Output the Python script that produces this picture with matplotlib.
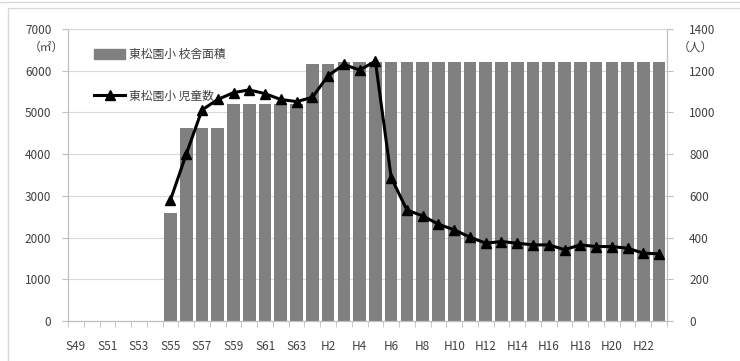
import numpy as np
import matplotlib.pyplot as plt
from matplotlib.lines import Line2D

plt.rcParams['font.family'] = ['Noto Sans CJK JP', 'DejaVu Sans']

# 年度 (S49〜S63, H1〜H23)
years = ['S%d' % y for y in range(49, 64)] + ['H%d' % y for y in range(1, 24)]
tick_years = years[::2]

# 校舎面積 (㎡)
area = [0, 0, 0, 0, 0, 0,
        2600, 4620, 4620, 4620,
        5200, 5200, 5200, 5200, 5200,
        6150, 6150, 6200, 6200, 6200,
        6200, 6200, 6200, 6200, 6200, 6200, 6200, 6200, 6200,
        6200, 6200, 6200, 6200, 6200, 6200, 6200, 6200, 6200]

# 児童数 (人)
pupils = [np.nan] * 6 + [
    580, 800, 1012, 1062, 1095, 1108, 1090, 1062, 1052,
    1072, 1176, 1230, 1203, 1246,
    688, 532, 504, 464, 437, 402, 373, 381, 373, 365, 365,
    342, 365, 357, 357, 349, 325, 322]

label_area = '東松園小 校舎面積'
label_pupils = '東松園小 児童数'

fig = plt.figure(figsize=(7.4, 3.61), dpi=100)
ax = fig.add_axes([68 / 740, 1 - 321 / 361, 599 / 740, 292 / 361])
ax2 = ax.twinx()

x = np.arange(len(years))
ax.bar(x, area, width=0.8, color='#808080', zorder=2)
ax2.plot(x, pupils, color='black', linewidth=2.2, marker='^',
         markersize=7, zorder=3)

ax.set_xlim(-0.5, len(years) - 0.5)
ax.set_ylim(0, 7000)
ax2.set_ylim(0, 1400)
ax.set_yticks(range(0, 7001, 1000))
ax2.set_yticks(range(0, 1401, 200))
ax.yaxis.grid(True, color='#d9d9d9', linewidth=0.8, zorder=0)
ax.set_axisbelow(True)

# ticks at category boundaries, labels every other year
ax.set_xticks(x[::2])
ax.set_xticklabels(tick_years)
ax.set_xticks(np.arange(len(years) + 1) - 0.5, minor=True)
ax.tick_params(axis='x', which='major', length=0, pad=14, labelsize=8.5,
               colors='#404040')
ax.tick_params(axis='x', which='minor', length=4, color='#bfbfbf')
ax.tick_params(axis='y', length=4, color='#bfbfbf', labelsize=8.5,
               labelcolor='#404040', pad=8)
ax2.tick_params(axis='y', length=4, color='#bfbfbf', labelsize=8.5,
                labelcolor='#404040', pad=12)

for a in (ax, ax2):
    for s in a.spines.values():
        s.set_color('#bfbfbf')
        s.set_linewidth(0.8)
    a.spines['top'].set_color('#d9d9d9')

# units under the top tick labels
fig.text(46 / 740, 1 - 47 / 361, '（㎡）', fontsize=8.5, color='#404040',
         ha='center', va='center')
fig.text(695 / 740, 1 - 47 / 361, '（人）', fontsize=8.5, color='#404040',
         ha='center', va='center')

handles = [plt.Rectangle((0, 0), 1, 1, color='#808080'),
           Line2D([], [], color='black', linewidth=2.2, marker='^',
                  markersize=7)]
ax2.legend(handles, [label_area, label_pupils], loc='upper left',
           bbox_to_anchor=(0.025, 0.97), frameon=False, fontsize=8.5,
           labelspacing=2.4, handlelength=2.7, handletextpad=0.3,
           handleheight=0.9, labelcolor='#404040')

# outer frame of the chart area
fig.add_artist(Line2D([0, 1], [1 - 2 / 361, 1 - 2 / 361], color='#d9d9d9',
                      linewidth=1, transform=fig.transFigure))
fig.add_artist(Line2D([8 / 740, 8 / 740, 1], [0, 1 - 8 / 361, 1 - 8 / 361],
                      color='#d9d9d9', linewidth=1, transform=fig.transFigure))

fig.savefig('out.png', dpi=100)
